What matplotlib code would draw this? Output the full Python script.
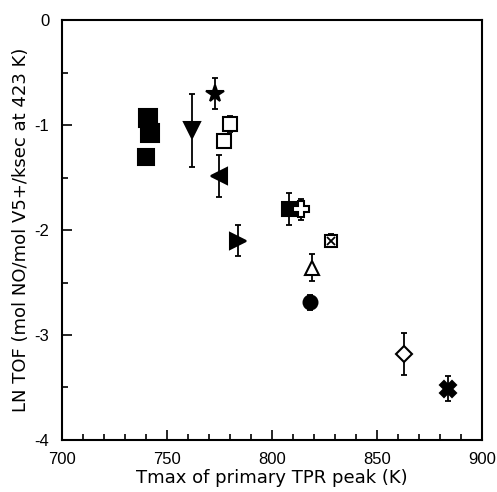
import matplotlib
matplotlib.use("Agg")
import matplotlib.pyplot as plt
from matplotlib.ticker import MultipleLocator

plt.rcParams['font.family'] = ['Liberation Sans', 'DejaVu Sans']
plt.rcParams['axes.unicode_minus'] = False

# Tmax of primary TPR peak (K), LN TOF and error bar half-widths
tmax = [741, 742, 740, 762, 773, 780, 777, 775, 784, 808, 814, 828, 819, 818, 863, 884]
ln_tof = [-0.93, -1.08, -1.30, -1.05, -0.70, -0.99, -1.15, -1.49, -2.10,
          -1.80, -1.80, -2.10, -2.36, -2.69, -3.18, -3.51]
err = [0.0, 0.0, 0.05, 0.35, 0.15, 0.08, 0.0, 0.20, 0.15,
       0.15, 0.10, 0.06, 0.13, 0.07, 0.20, 0.12]

# marker style per catalyst
markers = ['s', 's', 's', 'v', '*', 's', 's', '<', '>', 's', 'P', 's', '^', 'o', 'D', 'X']
filled = [True, True, True, True, True, False, False, True, True,
          True, False, False, False, True, False, True]
sizes = [13, 13, 12, 12, 13, 10, 10, 11, 11, 10, 12, 9, 10, 10, 8, 12]

fig = plt.figure(figsize=(4.97, 4.92), dpi=100)
ax = fig.add_axes([0.1247, 0.1057, 0.845, 0.8536])

for i in range(len(tmax)):
    if err[i] > 0:
        ax.errorbar(tmax[i], ln_tof[i], yerr=err[i], fmt='none', ecolor='black',
                    elinewidth=1.3, capsize=2.5, capthick=1.3, zorder=2)
    ax.plot(tmax[i], ln_tof[i], marker=markers[i], markersize=sizes[i],
            markerfacecolor='black' if filled[i] else 'white',
            markeredgecolor='black', markeredgewidth=1.5, linestyle='none', zorder=3)

# crossed square
ax.plot(tmax[11], ln_tof[11], marker='x', markersize=6, color='black',
        markeredgewidth=1.3, linestyle='none', zorder=4)

ax.set_xlim(700, 900)
ax.set_ylim(-4, 0)
ax.xaxis.set_major_locator(MultipleLocator(50))
ax.xaxis.set_minor_locator(MultipleLocator(10))
ax.yaxis.set_major_locator(MultipleLocator(1))
ax.yaxis.set_minor_locator(MultipleLocator(0.5))
ax.tick_params(which='both', direction='in', top=False, right=False,
               labelsize=12, width=1.2)
ax.tick_params(which='major', length=7, pad=9)
ax.tick_params(which='minor', length=4)
for sp in ax.spines.values():
    sp.set_linewidth(1.5)

ax.set_xlabel("Tmax of primary TPR peak (K)", fontsize=13, family='DejaVu Sans', labelpad=1)
ax.set_ylabel("LN TOF (mol NO/mol V5+/ksec at 423 K)", fontsize=13, family='DejaVu Sans', labelpad=3)

plt.savefig("out.png", dpi=100)
